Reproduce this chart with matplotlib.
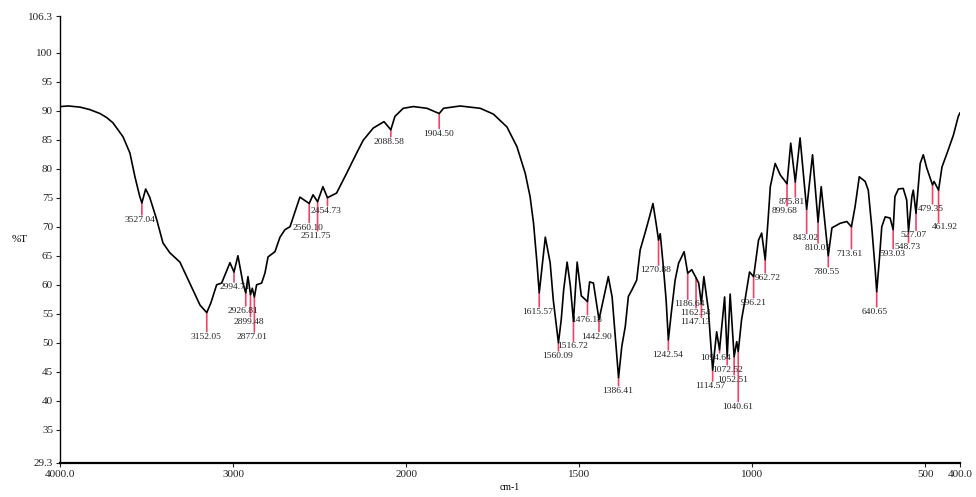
import numpy as np
import matplotlib
matplotlib.use("Agg")
import matplotlib.pyplot as plt

plt.rcParams['font.family'] = ['Liberation Serif', 'DejaVu Serif']

# FTIR spectrum: wavenumber (cm-1) and transmittance (%T)
wavenumber = np.array([
    4000, 3950, 3884, 3830, 3769, 3730, 3694, 3636, 3596, 3567, 3540, 3527.04, 3505,
    3482, 3441, 3405,
    3365, 3307, 3268, 3232, 3191, 3152.05, 3128, 3095, 3066, 3018, 2994.71, 2972,
    2943, 2926.81, 2914, 2899.48, 2889, 2877.01, 2864, 2835, 2816, 2798, 2758, 2729,
    2700, 2671, 2614, 2560.10, 2538, 2511.75, 2481, 2454.73, 2402, 2344, 2286, 2248,
    2190, 2128, 2088.58, 2065, 2017, 1979, 1940, 1904.50, 1892, 1844, 1786, 1748,
    1709, 1680, 1656, 1642, 1632, 1622, 1615.57, 1598, 1584, 1575, 1560.09, 1552,
    1545, 1535, 1526, 1516.72, 1506, 1494, 1476.18, 1470, 1459, 1442.90, 1416, 1405,
    1386.41, 1377, 1367, 1358, 1348, 1334, 1324, 1310, 1297, 1287, 1278, 1270.88,
    1266, 1257, 1249, 1242.54, 1233, 1223, 1213, 1197, 1186.64, 1175, 1162.54, 1155,
    1147.13, 1140, 1127, 1114.57, 1103, 1094.64, 1080, 1072.52, 1064, 1052.51, 1045,
    1040.61, 1031, 1021, 1008, 996.21, 982, 973, 962.72, 953, 948, 934, 919, 899.68,
    889, 875.81, 862, 843.02, 826, 810.03, 801, 780.55, 770, 746, 727, 713.61, 703,
    691, 674, 665, 655, 645, 640.65, 633, 626, 616, 602, 593.03, 588, 578, 564, 554,
    548.73, 539, 535, 527.07, 515, 506, 496, 479.35, 475, 461.92, 452, 436, 419, 405,
    400,
])
transmittance = np.array([
    90.7, 90.8, 90.6, 90.2, 89.5, 88.8, 87.9, 85.5, 82.7, 78.6, 75.3, 74.1, 76.5,
    75.1, 71.2, 67.2,
    65.5, 63.9, 61.4, 59.1, 56.5, 55.2, 56.9, 60.0, 60.3, 63.8, 62.2, 65.0,
    60.3, 58.6, 61.4, 58.3, 59.4, 57.9, 60.0, 60.3, 62.0, 64.8, 65.7, 68.2,
    69.5, 70.0, 75.1, 74.0, 75.5, 74.3, 76.9, 75.0, 75.8, 79.2, 82.7, 84.9,
    87.0, 88.1, 86.7, 89.0, 90.4, 90.7, 90.4, 89.5, 90.4, 90.8, 90.4, 89.4,
    87.2, 83.8, 79.2, 75.2, 70.6, 63.7, 58.6, 68.2, 63.8, 57.4, 50.0, 54.0,
    59.1, 63.9, 60.0, 53.7, 63.9, 58.1, 57.1, 60.5, 60.3, 54.0, 61.4, 57.9,
    44.0, 49.4, 52.8, 58.0, 59.1, 60.8, 66.0, 68.9, 71.7, 74.0, 70.6, 67.7,
    68.8, 63.1, 57.4, 50.5, 55.7, 60.8, 63.7, 65.7, 62.0, 62.6, 61.2, 60.3,
    56.8, 61.4, 55.7, 45.3, 51.9, 48.8, 57.9, 47.6, 58.4, 47.6, 50.2,
    48.5, 54.0, 57.4, 62.2, 61.4, 67.7, 68.9, 64.3, 72.4, 76.9, 80.9, 78.9, 77.4,
    84.4, 77.7, 85.3, 73.0, 82.4, 70.8, 76.9, 65.0, 69.8, 70.6, 70.9, 70.0, 73.5,
    78.6, 77.8, 76.3, 70.0, 62.6, 58.8, 64.3, 70.0, 71.7, 71.5, 69.5, 75.2, 76.5, 76.6, 74.6,
    69.2, 75.2, 76.3, 72.3, 80.9, 82.4, 80.1, 77.2, 77.8, 76.3, 80.3, 82.9, 85.8, 89.0,
    89.6,
])

# Picked peaks
peak_positions = [
    3527.04, 3152.05, 2994.71, 2926.81, 2899.48, 2877.01, 2560.10, 2511.75, 2454.73,
    2088.58, 1904.50, 1615.57, 1560.09, 1516.72, 1476.18, 1442.90, 1386.41, 1270.88,
    1242.54, 1186.64, 1162.54, 1147.13, 1114.57, 1094.64, 1072.52, 1052.51, 1040.61,
    996.21, 962.72, 899.68, 875.81, 843.02, 810.03, 780.55, 713.61, 640.65, 593.03,
    548.73, 527.07, 479.35, 461.92,
]
peak_labels = [f"{p:.2f}" for p in peak_positions]

# label placement below each peak (pixels)
label_dx = [-2, -1, 1, -3, -2, -2, -1, -2, -1,
            -2, -1, -2, -1, -1, -1, -2, -1, -3,
            -1, 2, -1, -6, -2, -4, 0, -2, -1,
            0, 3, -2, -4, -1, 0, -2, -2, -2, -1,
            -1, -2, -2, 6]
label_dy = [17, 24, 15, 18, 27, 40, 24, 34, 13,
            12, 20, 19, 13, 25, 18, 17, 13, 30,
            15, 31, 35, 19, 16, 8, 13, 23, 55,
            26, 18, 27, 20, 29, 26, 16, 27, 20, 24,
            16, 22, 24, 37]

xtick_values = [4000, 3000, 2000, 1500, 1000, 500, 400]
xtick_labels = ['4000.0', '3000', '2000', '1500', '1000', '500', '400.0']
ytick_values = [29.3, 35, 40, 45, 50, 55, 60, 65, 70, 75, 80, 85, 90, 95, 100, 106.3]
ytick_labels = ['29.3', '35', '40', '45', '50', '55', '60', '65', '70', '75', '80',
                '85', '90', '95', '100', '106.3']


# wavenumber axis with a scale change at 2000 cm-1
def fwd(x):
    x = np.asarray(x, dtype=float)
    return np.where(x >= 2000, (x - 2000) / 1000.0, (x - 2000) / 500.0)


def inv(u):
    u = np.asarray(u, dtype=float)
    return np.where(u >= 0, 2000 + 1000.0 * u, 2000 + 500.0 * u)


fig = plt.figure(figsize=(9.76, 4.97), dpi=100)
ax = fig.add_axes([60 / 976, 1 - 463 / 497, 900 / 976, 447 / 497])
ax.set_xscale('function', functions=(fwd, inv))

ax.plot(wavenumber, transmittance, color='black', lw=1.2, zorder=3)

ax.set_xlim(4000, 400)
ax.set_ylim(29.3, 106.3)

red = '#ee4466'
order = np.argsort(wavenumber)
for p, lab, dx, dy in zip(peak_positions, peak_labels, label_dx, label_dy):
    t = np.interp(p, wavenumber[order], transmittance[order])
    ax.annotate('', xy=(p, t), xytext=(0, -(dy - 5)), textcoords='offset pixels',
                arrowprops=dict(arrowstyle='-', color=red, lw=1.2,
                                shrinkA=0, shrinkB=0), zorder=2)
    ax.annotate(lab, xy=(p, t), xytext=(dx, -dy), textcoords='offset pixels',
                ha='center', va='center', fontsize=6.8, color='#222222', zorder=4)

ax.set_xticks(xtick_values)
ax.set_xticklabels(xtick_labels)
ax.set_yticks(ytick_values)
ax.set_yticklabels(ytick_labels)
ax.minorticks_off()
ax.tick_params(axis='both', direction='out', length=3, width=0.8,
               labelsize=8, pad=2, colors='#222222')

for side in ('top', 'right'):
    ax.spines[side].set_visible(False)
ax.spines['left'].set_linewidth(1.0)
ax.spines['bottom'].set_linewidth(1.6)

ax.set_xlabel('cm-1', fontsize=7, labelpad=3)
ax.set_ylabel('%T', rotation=0, fontsize=8, va='center', ha='center')
ax.yaxis.set_label_coords(-0.045, 0.5)

fig.savefig('out.png', dpi=100, facecolor='white')
